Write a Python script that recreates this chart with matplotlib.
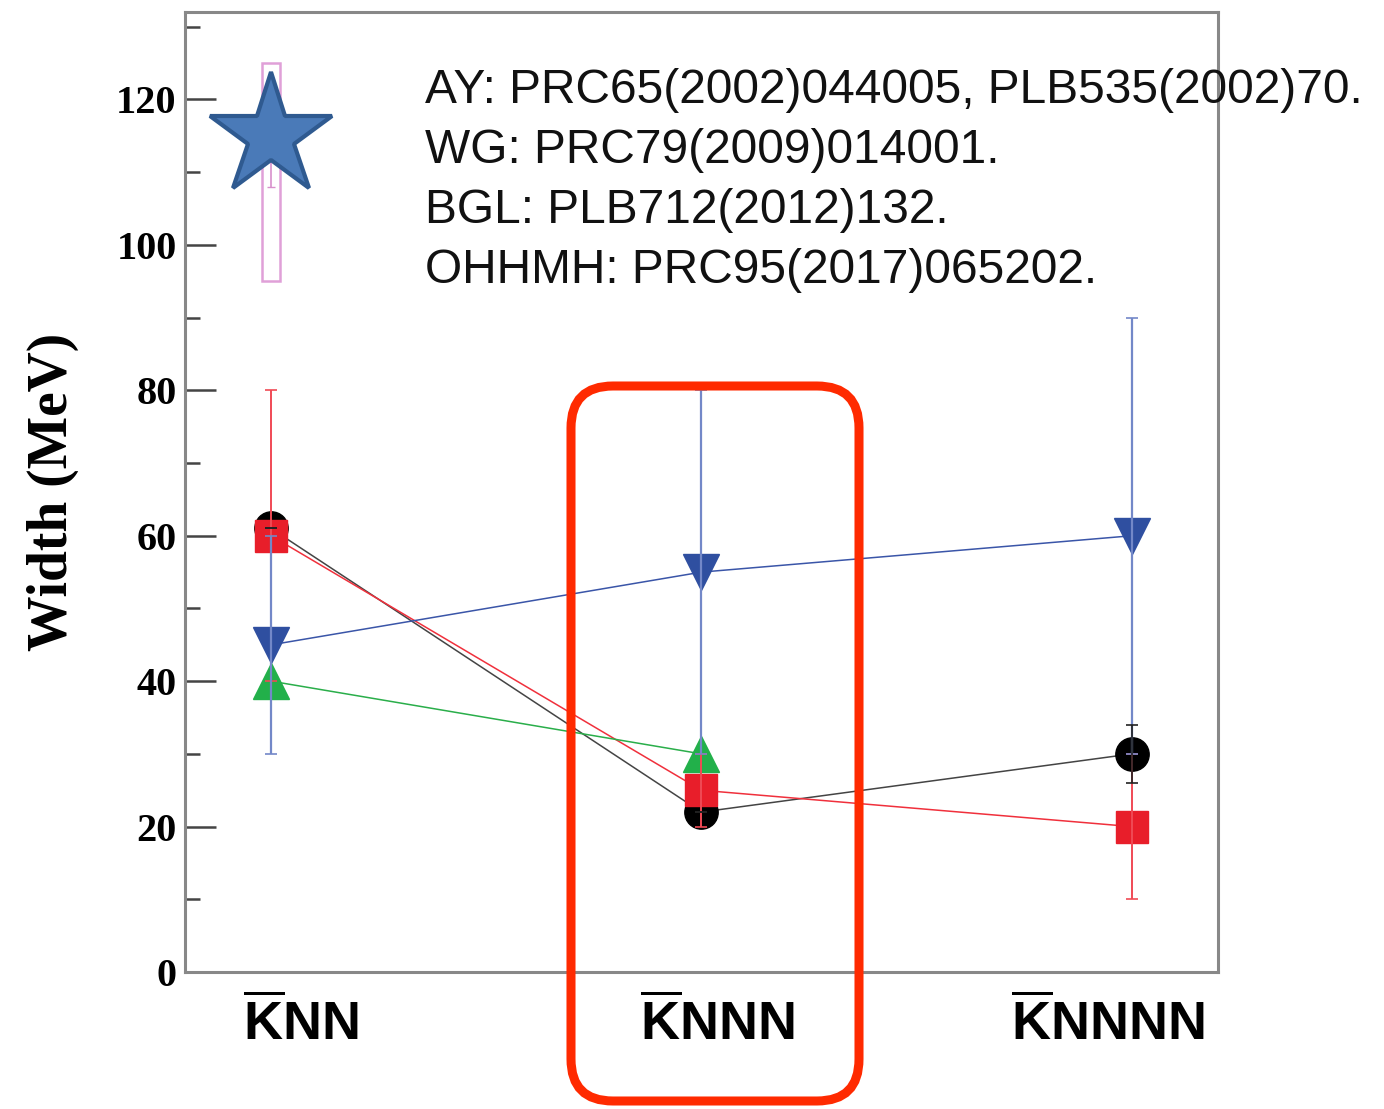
import numpy as np
import matplotlib.pyplot as plt
from matplotlib.patches import FancyBboxPatch, Rectangle
from matplotlib.ticker import MultipleLocator
from matplotlib.transforms import ScaledTranslation

plt.rcParams['mathtext.fontset'] = 'custom'
plt.rcParams['mathtext.rm'] = 'Liberation Sans:bold'
plt.rcParams['mathtext.bf'] = 'Liberation Sans:bold'

# kaonic nuclear systems on the x axis
systems = [r'$\overline{\mathrm{K}}\mathrm{NN}$',
           r'$\overline{\mathrm{K}}\mathrm{NNN}$',
           r'$\overline{\mathrm{K}}\mathrm{NNNN}$']
xs = [1, 2, 3]

# widths (MeV) and errors for each calculation
circle_w = [61, 22, 30]
circle_err = [0, 0, 4]

square_w = [60, 25, 20]
square_err = [20, 5, 10]

tri_down_w = [45, 55, 60]
tri_down_err = [15, 25, 30]

tri_up_x = [1, 2]
tri_up_w = [40, 30]

# experimental point for K-pp: star, plus the band with its stat. error
star_w = 115
band_w = 110
band_sys = 15
band_stat = 2

refs = ['AY: PRC65(2002)044005, PLB535(2002)70.',
        'WG: PRC79(2009)014001.',
        'BGL: PLB712(2012)132.',
        'OHHMH: PRC95(2017)065202.']

fig = plt.figure(figsize=(13.84, 11.09), dpi=100)
ax = fig.add_axes([0.1337, 0.1235, 0.7463, 0.8655])

# connecting lines
ax.plot(xs, circle_w, color='#444444', lw=1.1, zorder=2)
ax.plot(xs, square_w, color='#f0303c', lw=1.1, zorder=2)
ax.plot(xs, tri_down_w, color='#3a55a8', lw=1.1, zorder=2)
ax.plot(tri_up_x, tri_up_w, color='#2aae4a', lw=1.1, zorder=2)

# error bars
ax.errorbar(xs, square_w, yerr=square_err, fmt='none', ecolor='#f04a55',
            elinewidth=1.4, capsize=4, capthick=1.2, zorder=5)
ax.errorbar(xs, tri_down_w, yerr=tri_down_err, fmt='none', ecolor='#7388c8',
            elinewidth=1.6, capsize=4, capthick=1.2, zorder=5)
ax.errorbar(xs, circle_w, yerr=circle_err, fmt='none', ecolor='#222222',
            elinewidth=1.2, capsize=4, capthick=1.2, zorder=5)

# markers
ax.plot(xs, circle_w, 'o', ms=24, color='black', mec='black', ls='none', zorder=3)
ax.plot(xs, square_w, 's', ms=23, color='#e81e2a', mec='#e81e2a', ls='none', zorder=4)
ax.plot(xs, tri_down_w, 'v', ms=26, color='#2f4fa0', mec='#2f4fa0', ls='none', zorder=4)
ax.plot(tri_up_x, tri_up_w, '^', ms=26, color='#22b04a', mec='#22b04a', ls='none', zorder=4)

# experimental band and star
ax.add_patch(Rectangle((xs[0] - 0.021, band_w - band_sys), 0.042, 2 * band_sys,
                       fill=False, edgecolor='#e0a0d8', lw=1.8, zorder=3))
ax.errorbar([xs[0]], [band_w], yerr=band_stat, fmt='none', ecolor='#d890cc',
            elinewidth=1.2, capsize=3, zorder=3)
ax.plot([xs[0]], [star_w], '*', ms=92, color='#4a7ab8', mec='#2f5a90',
        mew=3, zorder=6)

ax.set_xlim(0.8, 3.2)
ax.set_ylim(0, 132)
ax.set_xticks(xs)
ax.set_xticklabels(systems, fontsize=39)
ax.tick_params(axis='x', length=0, pad=18)
# the category labels sit a little off their columns
for lab, dx in zip(ax.get_xticklabels(), [30, 16, -24]):
    lab.set_transform(lab.get_transform() + ScaledTranslation(dx / 100, 0, fig.dpi_scale_trans))

ax.yaxis.set_major_locator(MultipleLocator(20))
ax.yaxis.set_minor_locator(MultipleLocator(10))
ax.tick_params(axis='y', which='major', direction='in', length=22, width=1.8,
               color='#444444', pad=6)
ax.tick_params(axis='y', which='minor', direction='in', length=11, width=1.8,
               color='#444444')
for lab in ax.get_yticklabels():
    lab.set_fontfamily('Liberation Serif')
    lab.set_fontweight('bold')
    lab.set_fontsize(29)
ax.set_ylabel('Width (MeV)', fontfamily='Liberation Serif', fontweight='bold',
              fontsize=40, labelpad=27)
for sp in ax.spines.values():
    sp.set_color('#888888')
    sp.set_linewidth(2.2)

# reference list
for i, r in enumerate(refs):
    fig.text(425 / 1384, 1 - (103 + 60 * i) / 1109, r, fontfamily='Liberation Sans',
             fontsize=34.5, va='baseline', ha='left', color='#111111')

# overlay in pixel units for the highlight box around the KNNN column
over = fig.add_axes([0, 0, 1, 1], zorder=10)
over.set_xlim(0, 1384)
over.set_ylim(1109, 0)
over.axis('off')
over.patch.set_alpha(0)
over.add_patch(FancyBboxPatch((571, 386), 288, 715,
                              boxstyle='round,pad=0,rounding_size=42',
                              fill=False, edgecolor='#ff2a00', lw=6.5))

fig.savefig('out.png', dpi=100)
